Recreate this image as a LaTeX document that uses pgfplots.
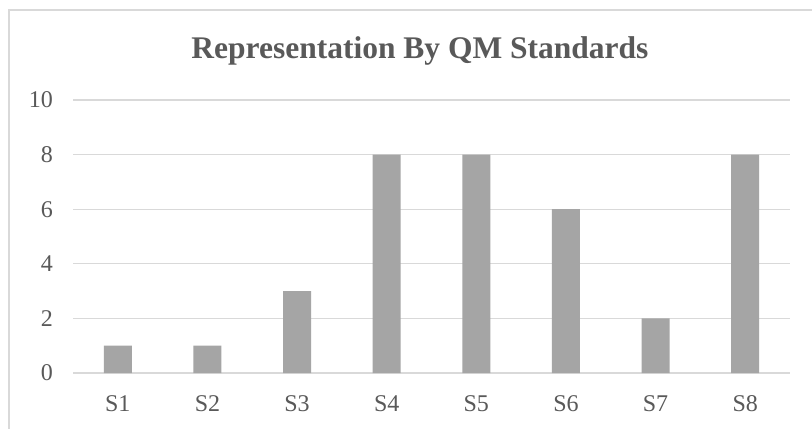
\documentclass[border=0pt]{standalone}
\usepackage{pgfplots}
\pgfplotsset{compat=1.18}
\usepackage{fontspec}
\setmainfont{Liberation Serif}
\definecolor{barc}{HTML}{A5A5A5}
\definecolor{gridc}{HTML}{D9D9D9}
\definecolor{txtc}{HTML}{595959}
\begin{document}
\begin{tikzpicture}[x=1bp,y=1bp]
\useasboundingbox (0,0) rectangle (812,428);
\fill[white] (0,0) rectangle (812,428);
\draw[gridc, line width=1.2bp] (9,-20) -- (9,418) -- (840,418);
\node[anchor=base, text=txtc, font=\fontsize{31.5bp}{36bp}\selectfont\bfseries] at (420,370) {Representation By QM Standards};
\begin{axis}[
  at={(73bp,55bp)}, anchor=south west,
  scale only axis, width=717bp, height=273bp,
  xmin=-0.5, xmax=7.5, ymin=0, ymax=10,
  ytick={0,2,4,6,8,10},
  xtick={0,...,7},
  xticklabels={S1,S2,S3,S4,S5,S6,S7,S8},
  ymajorgrids, grid style={gridc, line width=1.2bp},
  axis line style={draw=none},
  major tick length=0pt,
  tick label style={text=txtc, font=\fontsize{24bp}{28bp}\selectfont, inner sep=0pt},
  /pgf/number format/assume math mode=true,
  yticklabel style={anchor=east, xshift=-20bp},
  xticklabel style={anchor=base, yshift=-38bp},
  ybar, bar width=28bp,
  clip=false,
]
\addplot[fill=barc, draw=none] coordinates {(0,1) (1,1) (2,3) (3,8) (4,8) (5,6) (6,2) (7,8)};
\end{axis}
\end{tikzpicture}
\end{document}
